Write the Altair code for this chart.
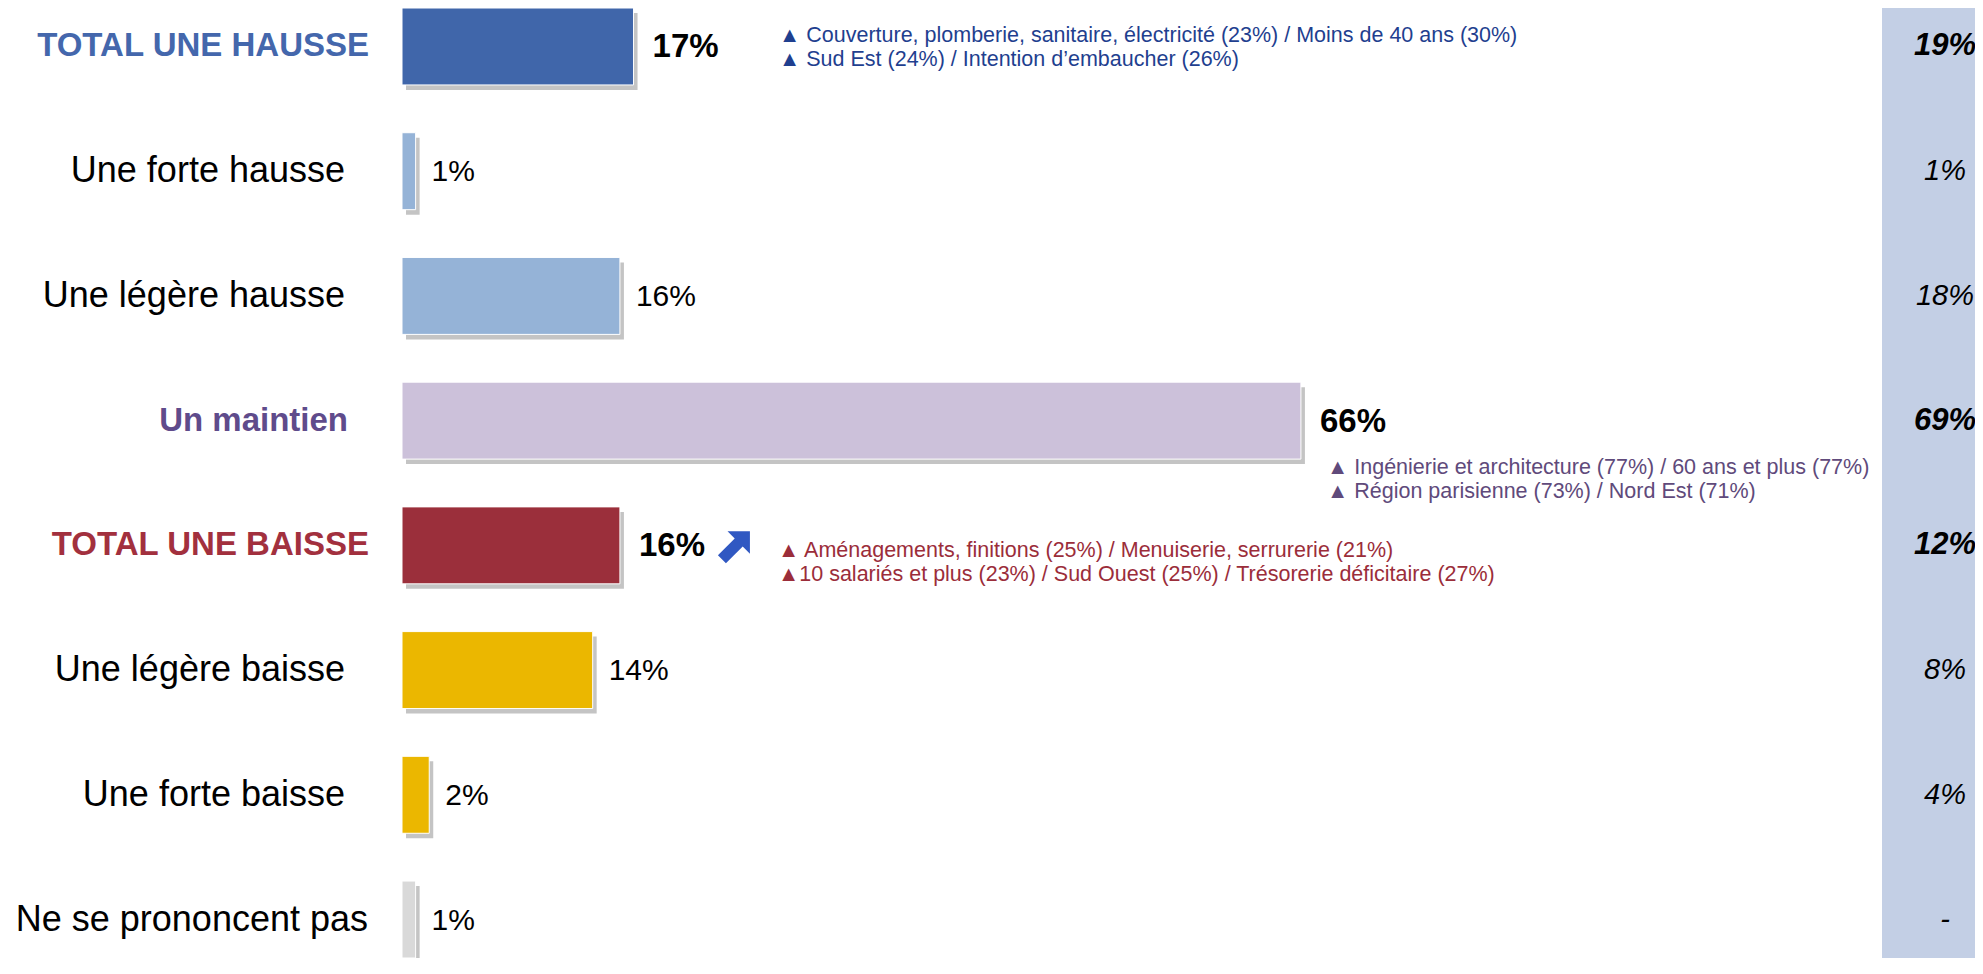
import json
import altair as alt
import pandas as pd

# ---------------- data ----------------
categories = ["TOTAL UNE HAUSSE", "Une forte hausse", "Une légère hausse", "Un maintien",
              "TOTAL UNE BAISSE", "Une légère baisse", "Une forte baisse", "Ne se prononcent pas"]
values = [17, 1, 16, 66, 16, 14, 2, 1]
previous = ["19%", "1%", "18%", "69%", "12%", "8%", "4%", "-"]
trend = ["", "", "", "", "up", "", "", ""]

notes_hausse = ["▲ Couverture, plomberie, sanitaire, électricité (23%) / Moins de 40 ans (30%)",
                "▲ Sud Est (24%) / Intention d’embaucher (26%)"]
notes_maintien = ["▲ Ingénierie et architecture (77%) / 60 ans et plus (77%)",
                  "▲ Région parisienne (73%) / Nord Est (71%)"]
notes_baisse = ["▲  Aménagements, finitions (25%) / Menuiserie, serrurerie (21%)",
                "▲10 salariés et plus (23%) / Sud Ouest (25%) / Trésorerie déficitaire (27%)"]

# ---------------- styles ----------------
emphasis = [categories[0], categories[3], categories[4]]
bar_colors = ["#4066AA", "#95B3D7", "#95B3D7", "#CCC1DA", "#9B2F3B", "#EBB700", "#EBB700", "#D9D9D9"]
label_colors = ["#4467AC", "#000000", "#000000", "#5F4B8B", "#A2303E", "#000000", "#000000", "#000000"]

FONT = "Liberation Sans"
W, H = 1573, 950
XMAX = W / 13.62
ARROW = "M 1 -1 L 1 0.4 L 0.55 -0.05 L -0.5 1 L -1 0.5 L 0.05 -0.55 L -0.4 -1 Z"

df = pd.DataFrame({"cat": categories, "value": values, "prev": previous, "trend": trend})

y = alt.Y("cat:N", sort=categories, axis=None,
          scale=alt.Scale(domain=categories, paddingInner=0.383, paddingOuter=0))
x = alt.X("value:Q", axis=None, scale=alt.Scale(domain=[0, XMAX], nice=False, zero=True))

emph_js = json.dumps(emphasis)
is_emph = f"indexof({emph_js}, datum.cat) >= 0"
not_emph = f"indexof({emph_js}, datum.cat) < 0"


def in_list(lst):
    return f"indexof({json.dumps(lst, ensure_ascii=False)}, datum.cat) >= 0"


base = alt.Chart(df)

band = alt.Chart(pd.DataFrame({"k": [0]})).mark_rect(color="#C3CFE5").encode(
    x=alt.value(1480), x2=alt.value(W), y=alt.value(0), y2=alt.value(H))

shadow = base.mark_bar(color="#C4C4C4", xOffset=4, x2Offset=4, yOffset=5, y2Offset=5).encode(x=x, y=y)

bars = base.mark_bar(stroke="white", strokeWidth=1).encode(
    x=x, y=y,
    color=alt.Color("cat:N", scale=alt.Scale(domain=categories, range=bar_colors), legend=None))

val_reg = base.transform_filter(not_emph).transform_calculate(lbl="datum.value + '%'").mark_text(
    align="left", baseline="middle", dx=16, dy=1, font=FONT, fontSize=30, color="black").encode(
    x=x, y=y, text="lbl:N")
val_bold = base.transform_filter(is_emph).transform_calculate(lbl="datum.value + '%'").mark_text(
    align="left", baseline="middle", dx=19, dy=1, font=FONT, fontSize=33, fontWeight="bold",
    color="black").encode(x=x, y=y, text="lbl:N")

arrow = base.transform_filter("datum.trend == 'up'").mark_point(
    shape=ARROW, filled=True, color="#3058C2", size=1024, opacity=1, xOffset=114, yOffset=2).encode(x=x, y=y)

label_color = alt.Color("cat:N", scale=alt.Scale(domain=categories, range=label_colors), legend=None)


def cat_labels(lst, xpos, bold):
    kw = dict(align="right", baseline="middle", font=FONT, fontSize=33 if bold else 36)
    if bold:
        kw["fontWeight"] = "bold"
    return base.transform_filter(in_list(lst)).mark_text(**kw).encode(
        x=alt.value(xpos), y=y, text="cat:N", color=label_color)


lab1 = cat_labels([categories[0], categories[4]], -33, True)
lab2 = cat_labels([categories[3]], -54, True)
lab3 = cat_labels([categories[1], categories[2], categories[5], categories[6]], -57, False)
lab4 = cat_labels([categories[7]], -34, False)
labels = alt.layer(lab1, lab2, lab3, lab4)

prev_bold = base.transform_filter(is_emph).mark_text(
    align="center", baseline="middle", font=FONT, fontSize=31, fontWeight="bold",
    fontStyle="italic", color="black").encode(x=alt.value(1543), y=y, text="prev:N")
prev_reg = base.transform_filter(not_emph).mark_text(
    align="center", baseline="middle", font=FONT, fontSize=29,
    fontStyle="italic", color="black").encode(x=alt.value(1543), y=y, text="prev:N")


def notes(cat, lines, xpos, dy, color):
    d = pd.DataFrame({"cat": [cat], "note": [lines]})
    return alt.Chart(d).mark_text(
        align="left", baseline="middle", font=FONT, fontSize=21.5, lineHeight=24,
        dy=dy, color=color).encode(x=alt.value(xpos), y=y, text="note")


n1 = notes(categories[0], notes_hausse, 377, -10, "#1F3F8F")
n2 = notes(categories[3], notes_maintien, 925, 47, "#604A7B")
n3 = notes(categories[4], notes_baisse, 376, 6, "#9B2D3A")

chart = alt.layer(
    band, shadow, bars, val_reg, val_bold, arrow, labels,
    prev_bold, prev_reg, n1, n2, n3
).resolve_scale(color="independent").properties(
    width=W, height=H,
    padding={"left": 394, "top": 0, "right": 0, "bottom": 0},
    autosize=alt.AutoSizeParams(type="none"),
    background="white",
).configure_view(stroke=None)

chart.save("out.html", embed_options={"renderer": "svg", "actions": False})
